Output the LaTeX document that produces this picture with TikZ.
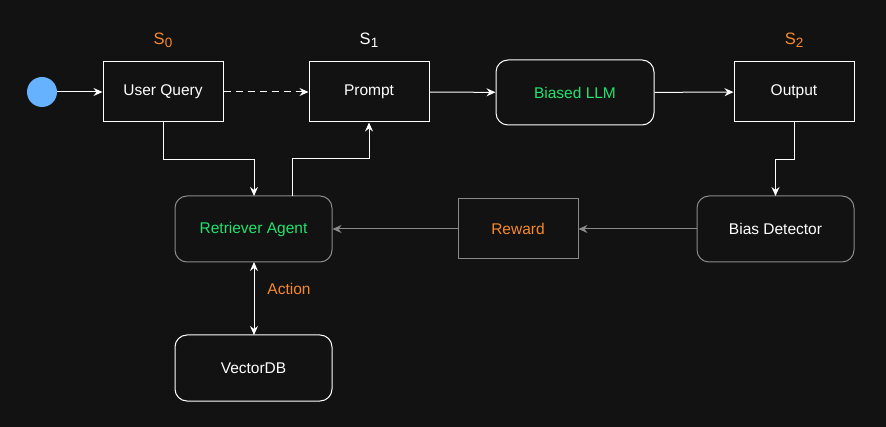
\documentclass[tikz,border=0pt]{standalone}
\usepackage{fontspec}
\setmainfont{Liberation Sans}
\usetikzlibrary{arrows.meta}
\definecolor{bg}{HTML}{121212}
\definecolor{grn}{HTML}{22E36E}
\definecolor{org}{HTML}{F7892B}
\definecolor{blu}{HTML}{66B2FF}
\definecolor{gry}{HTML}{8A8A8A}
\newcommand{\lbl}{\fontsize{15.5}{18}\selectfont}
\newcommand{\stt}[1]{S\raisebox{-0.35ex}{\fontsize{13.5}{14}\selectfont #1}}
\begin{document}
\begin{tikzpicture}[x=1pt,y=-1pt,
  box/.style={draw=white,line width=1pt,minimum width=120pt,minimum height=60pt,inner sep=0pt,font=\lbl,text=white},
  rbox/.style={box,rounded corners=12pt,minimum width=157pt,minimum height=66pt},
  gbox/.style={draw=gry},
  conn/.style={draw=white,line width=1pt,-{Stealth[length=9pt,width=8pt,inset=3pt]}},
  gconn/.style={conn,draw=gry},
  slabel/.style={font=\fontsize{16.5}{18}\selectfont,inner sep=0pt}
]
\fill[bg] (0,0) rectangle (886,427);
\useasboundingbox (0,0) rectangle (886,427);

\node[circle,fill=blu,minimum size=30pt,inner sep=0pt] (start) at (42,92) {};
\node[box] (uq) at (163,92) {User Query};
\node[box] (pr) at (369,92) {Prompt};
\node[rbox,text=grn,minimum width=158pt,minimum height=65pt] (llm) at (575,92.5) {Biased LLM};
\node[box] (out) at (794,92) {Output};

\node[slabel,text=org] (s0) at (163,40) {\stt{0}};
\node[slabel,text=white] (s1) at (369,40) {\stt{1}};
\node[slabel,text=org] (s2) at (794,40) {\stt{2}};

\node[rbox,gbox,text=grn] (ret) at (253.5,229) {Retriever Agent};
\node[box,gbox,text=org] (rew) at (518,229) {Reward};
\node[rbox,gbox] (bias) at (775.5,229) {Bias Detector};
\node[rbox] (vdb) at (253.5,368) {VectorDB};
\node[font=\lbl,text=org,inner sep=0pt] (act) at (289,289) {Action};

\draw[conn] (start) -- (uq);
\draw[conn,dash pattern=on 7pt off 5pt] (uq) -- (pr);
\draw[conn] (pr) -- (llm);
\draw[conn] (llm) -- (out);

\coordinate (rett) at (254,196);
\draw[conn] (uq.south) -- ++(0,37) -| (rett);
\coordinate (retp) at (292,196);
\draw[conn] (retp) -- (292,159) -| (pr.south);
\coordinate (biast) at (775.5,196);
\draw[conn] (out.south) -- ++(0,37) -| (biast);

\draw[gconn] (bias) -- (rew);
\draw[gconn] (rew) -- (ret);
\coordinate (retb) at (254,262);
\coordinate (vdbt) at (254,335);
\draw[conn,{Stealth[length=9pt,width=8pt,inset=3pt]}-{Stealth[length=9pt,width=8pt,inset=3pt]}] (retb) -- (vdbt);
\end{tikzpicture}
\end{document}
